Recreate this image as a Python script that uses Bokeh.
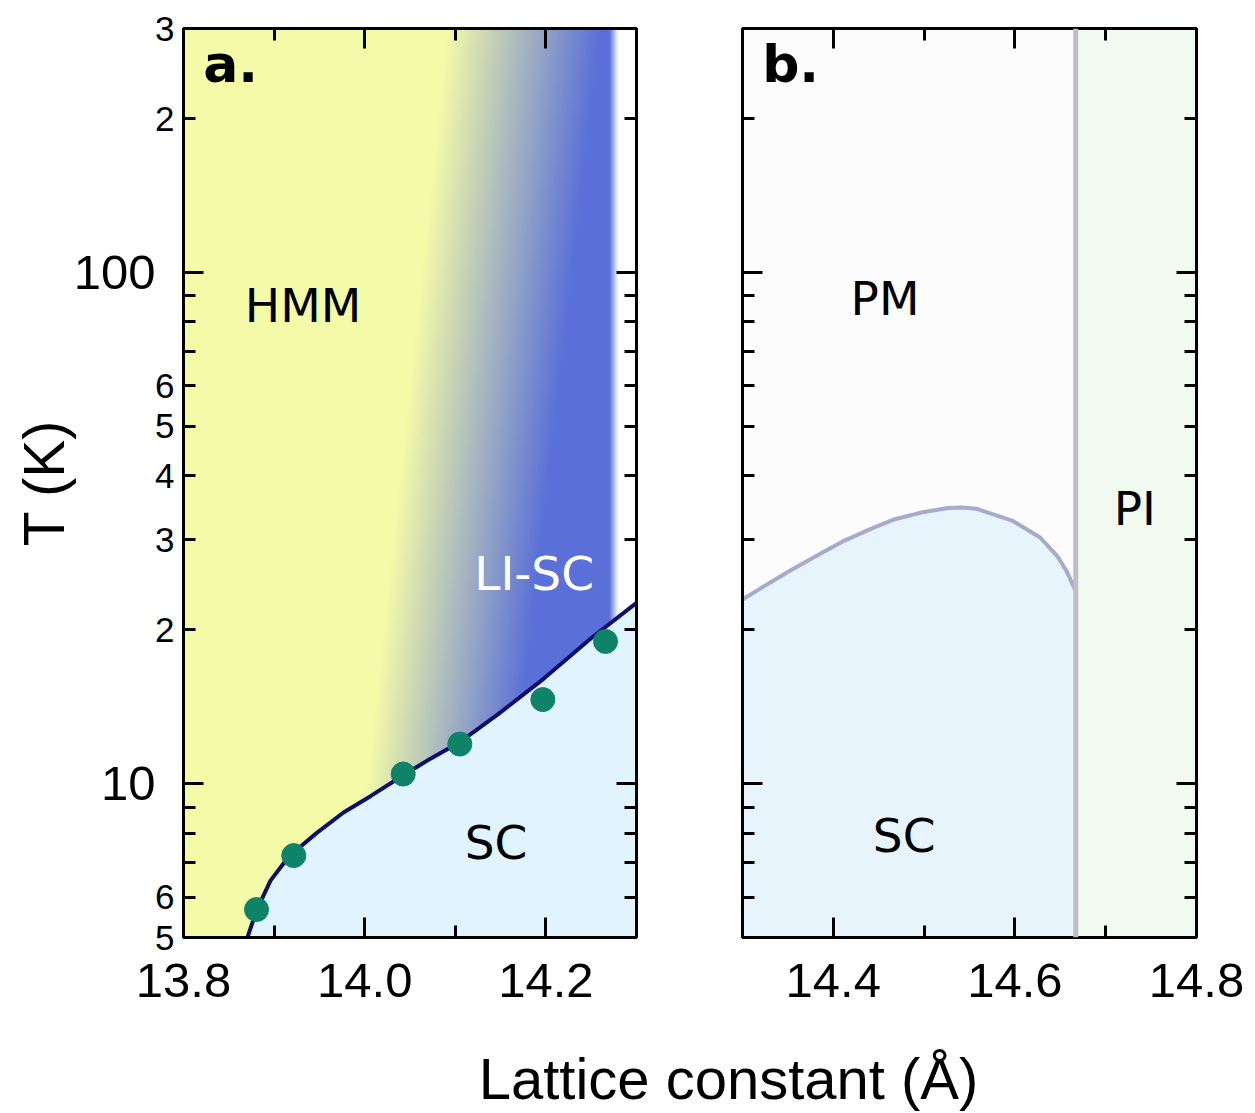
import numpy as np
from bokeh.plotting import figure
from bokeh.models import (FixedTicker, LogAxis, LinearAxis, Label, Range1d, Span, BoxAnnotation,
                          NumeralTickFormatter, CustomJSTickFormatter)
from bokeh.layouts import column, row
from bokeh.embed import file_html
from bokeh.resources import INLINE

# ---------------- data ----------------
T_MIN, T_MAX = 5, 300
XA = (13.8, 14.3)
XB = (14.3, 14.8)

xa_major = [13.8, 14.0, 14.2]
xa_minor = [13.9, 14.1]
xb_major = [14.4, 14.6, 14.8]
xb_minor = [14.5, 14.7]

y_major = [10, 100]
y_minor = [5, 6, 7, 8, 9, 20, 30, 40, 50, 60, 70, 80, 90, 200, 300]
y_minor_label_vals = [5, 6, 20, 30, 40, 50, 60, 200, 300]
y_minor_label_text = ["5", "6", "2", "3", "4", "5", "6", "2", "3"]
y_unlabeled_minor = [7, 8, 9, 70, 80, 90]

# panel a: Tc boundary (line) and measured points
curve_a_x = [13.8706, 13.8806, 13.8960, 13.9104, 13.9214, 13.9468, 13.9766, 14.0064,
             14.0417, 14.0726, 14.1057, 14.1466, 14.1974, 14.2492, 14.3]
curve_a_T = [5.00, 5.65, 6.46, 6.98, 7.33, 8.00, 8.78, 9.45,
             10.36, 11.19, 12.08, 13.64, 16.03, 19.20, 22.57]
points_x = [13.8806, 13.9217, 14.0425, 14.105, 14.1966, 14.2658]
points_T = [5.67, 7.23, 10.44, 11.95, 14.6, 18.97]

# panel b: Tc dome and PM/PI boundary
curve_b_x = [14.3, 14.3199, 14.3508, 14.3861, 14.4093, 14.4413, 14.4678, 14.4965, 14.5263,
             14.5417, 14.5572, 14.5969, 14.6278, 14.6471, 14.6576, 14.6664]
curve_b_T = [22.9, 24.1, 26.0, 28.2, 29.7, 31.5, 32.9, 33.9, 34.6,
             34.7, 34.5, 32.7, 30.3, 27.8, 25.9, 23.9]
pi_boundary = 14.667

labels_a = [("HMM", 13.932, 86.0, "black"), ("LI-SC", 14.187, 25.8, "white"), ("SC", 14.145, 7.67, "black")]
labels_b = [("PM", 14.457, 89.0, "black"), ("PI", 14.732, 34.6, "black"), ("SC", 14.478, 7.92, "black")]
panel_a_tag = ("a.", 13.852, 256.0)
panel_b_tag = ("b.", 14.353, 256.0)

# ---------------- layout / styles ----------------
LEFT, TOP, FRAME_W, FRAME_H, BOTTOM = 183, 28, 453, 909, 93
FIG_H = TOP + FRAME_H + BOTTOM

YELLOW = np.array([244, 251, 168], dtype=float)
BLUE = np.array([90, 111, 216], dtype=float)
WHITE = np.array([255, 255, 255], dtype=float)
SC_A = "#e1f4fd"
SC_B = "#e8f4fc"
PM_BG = "#fcfcfc"
PI_BG = "#f1faf1"
AX_FONT = "Liberation Sans"
TX_FONT = "DejaVu Sans"

yr = Range1d(T_MIN, T_MAX)


def blank():
    return CustomJSTickFormatter(code="return ''")


def tick_style(ax):
    ax.axis_line_width = 3
    ax.axis_line_color = "black"
    ax.major_tick_in = 20
    ax.major_tick_out = 0
    ax.minor_tick_in = 12
    ax.minor_tick_out = 0
    ax.major_tick_line_width = 3
    ax.minor_tick_line_width = 3
    ax.major_tick_line_color = "black"
    ax.minor_tick_line_color = "black"
    ax.major_label_text_font = AX_FONT
    ax.major_label_text_color = "black"
    ax.major_label_standoff = 0


def style(p, xmaj, xmin, labelled_left):
    p.grid.visible = False
    p.outline_line_color = "black"
    p.outline_line_width = 3
    xa = p.xaxis[0]
    xa.ticker = FixedTicker(ticks=xmaj, minor_ticks=xmin)
    xa.formatter = NumeralTickFormatter(format="0.0")
    top = LinearAxis(ticker=FixedTicker(ticks=xmaj, minor_ticks=xmin), formatter=blank())
    right = LogAxis(ticker=FixedTicker(ticks=y_major, minor_ticks=y_minor), formatter=blank())
    p.add_layout(top, "above")
    p.add_layout(right, "right")
    ya = p.yaxis[0]
    for ax in [xa, ya, top, right]:
        tick_style(ax)
    xa.major_label_text_font_size = "49px"
    xa.major_label_standoff = 26
    if labelled_left:
        # inner axis: short ticks, mantissa labels (2,3,4,5,6)
        ya.ticker = FixedTicker(ticks=sorted(y_minor_label_vals + y_major), minor_ticks=y_unlabeled_minor)
        ya.formatter = CustomJSTickFormatter(
            args=dict(vals=y_minor_label_vals, texts=y_minor_label_text),
            code="for (let i = 0; i < vals.length; i++) {"
                 " if (Math.abs(vals[i] - tick) < 1e-6 * tick) return texts[i]; } return '';")
        ya.major_tick_in = 12
        ya.major_label_text_font_size = "35px"
        ya.major_label_standoff = 9
        # outer axis: decade labels (10, 100) and the axis title
        outer = LogAxis(ticker=FixedTicker(ticks=y_major, minor_ticks=[]),
                        formatter=NumeralTickFormatter(format="0"))
        tick_style(outer)
        outer.axis_line_color = None
        outer.major_tick_in = 0
        outer.minor_tick_in = 0
        outer.major_tick_line_color = None
        outer.minor_tick_line_color = None
        outer.major_label_text_font_size = "49px"
        outer.major_label_standoff = -3
        outer.axis_label = "T (K)"
        outer.axis_label_text_font = AX_FONT
        outer.axis_label_text_font_size = "57px"
        outer.axis_label_text_font_style = "normal"
        outer.axis_label_text_color = "black"
        outer.axis_label_standoff = -5
        p.add_layout(outer, "left")
        # long decade ticks on the left edge
        dx = (p.x_range.end - p.x_range.start) * 20 / FRAME_W
        p.segment(x0=[p.x_range.start] * len(y_major), y0=y_major,
                  x1=[p.x_range.start + dx] * len(y_major), y1=y_major,
                  line_color="black", line_width=3)
    else:
        ya.ticker = FixedTicker(ticks=y_major, minor_ticks=y_minor)
        ya.formatter = blank()


# ---------------- panel a ----------------
pa = figure(width=LEFT + FRAME_W + 53, height=FIG_H, x_range=Range1d(*XA), y_range=yr,
            y_axis_type="log", output_backend="svg", toolbar_location=None,
            min_border_left=LEFT, min_border_right=53, min_border_top=TOP, min_border_bottom=BOTTOM)

# background gradient (HMM -> LI-SC crossover)
W, H = 453, 320
xs = XA[0] + (np.arange(W) + 0.5) * (XA[1] - XA[0]) / W
ls = np.log10(T_MIN) + (np.arange(H) + 0.5) * (np.log10(T_MAX) - np.log10(T_MIN)) / H
X, LL = np.meshgrid(xs, ls)
x0 = 14.0119 + (LL - 1.162) * 0.0605
x1 = 14.183 + (LL - 1.26) * 0.065
t = np.clip((X - x0) / (x1 - x0), 0, 1)
col = YELLOW[None, None, :] * (1 - t[..., None]) + BLUE[None, None, :] * t[..., None]
w = np.clip((X - 14.270) / 0.010, 0, 1)
col = col * (1 - w[..., None]) + WHITE[None, None, :] * w[..., None]
img = np.empty((H, W), dtype=np.uint32)
view = img.view(dtype=np.uint8).reshape((H, W, 4))
view[..., 0] = col[..., 0].astype(np.uint8)
view[..., 1] = col[..., 1].astype(np.uint8)
view[..., 2] = col[..., 2].astype(np.uint8)
view[..., 3] = 255
pa.image_rgba(image=[img], x=XA[0], y=T_MIN, dw=XA[1] - XA[0], dh=T_MAX - T_MIN)

pa.varea(x=curve_a_x, y1=[T_MIN] * len(curve_a_x), y2=curve_a_T, fill_color=SC_A)
pa.line(curve_a_x, curve_a_T, line_color="#0c0f6b", line_width=4, line_join="round")
pa.scatter(points_x, points_T, size=24, fill_color="#0e8367", line_color="#0e8367")
style(pa, xa_major, xa_minor, True)

for txt, x, y, c in labels_a:
    pa.add_layout(Label(x=x, y=y, text=txt, text_color=c, text_font=TX_FONT, text_font_size="47px",
                        text_align="center", text_baseline="middle"))
pa.add_layout(Label(x=panel_a_tag[1], y=panel_a_tag[2], text=panel_a_tag[0], text_font=TX_FONT,
                    text_color="black", text_font_style="bold", text_font_size="52px",
                    text_align="center", text_baseline="middle"))

# ---------------- panel b ----------------
pb = figure(width=53 + FRAME_W + 1 + 59, height=FIG_H, x_range=Range1d(*XB), y_range=yr,
            y_axis_type="log", output_backend="svg", toolbar_location=None,
            min_border_left=53, min_border_right=59, min_border_top=TOP, min_border_bottom=BOTTOM)
style(pb, xb_major, xb_minor, False)
pb.background_fill_color = PM_BG
pb.add_layout(BoxAnnotation(left=pi_boundary, fill_color=PI_BG, fill_alpha=1.0,
                            line_color=None, level="underlay"))
pb.varea(x=curve_b_x, y1=[T_MIN] * len(curve_b_x), y2=curve_b_T, fill_color=SC_B)
pb.line(curve_b_x, curve_b_T, line_color="#a7aacd", line_width=4, line_join="round")
pb.add_layout(Span(location=pi_boundary, dimension="height", line_color="#bfbfc3", line_width=5))

for txt, x, y, c in labels_b:
    pb.add_layout(Label(x=x, y=y, text=txt, text_color=c, text_font=TX_FONT, text_font_size="47px",
                        text_align="center", text_baseline="middle"))
pb.add_layout(Label(x=panel_b_tag[1], y=panel_b_tag[2], text=panel_b_tag[0], text_font=TX_FONT,
                    text_color="black", text_font_style="bold", text_font_size="52px",
                    text_align="center", text_baseline="middle"))

# ---------------- shared x label ----------------
pc = figure(width=1255, height=1113 - FIG_H, x_range=Range1d(0, 1255),
            y_range=Range1d(0, 1113 - FIG_H), output_backend="svg", toolbar_location=None,
            x_axis_location=None, y_axis_location=None, min_border=0)
pc.outline_line_color = None
pc.grid.visible = False
pc.add_layout(Label(x=728, y=35, text="Lattice constant (Å)", text_font=AX_FONT, text_color="black",
                    text_font_size="58px", text_align="center", text_baseline="middle"))

layout = column(row(pa, pb), pc)
open("out.html", "w").write(file_html(layout, INLINE))
